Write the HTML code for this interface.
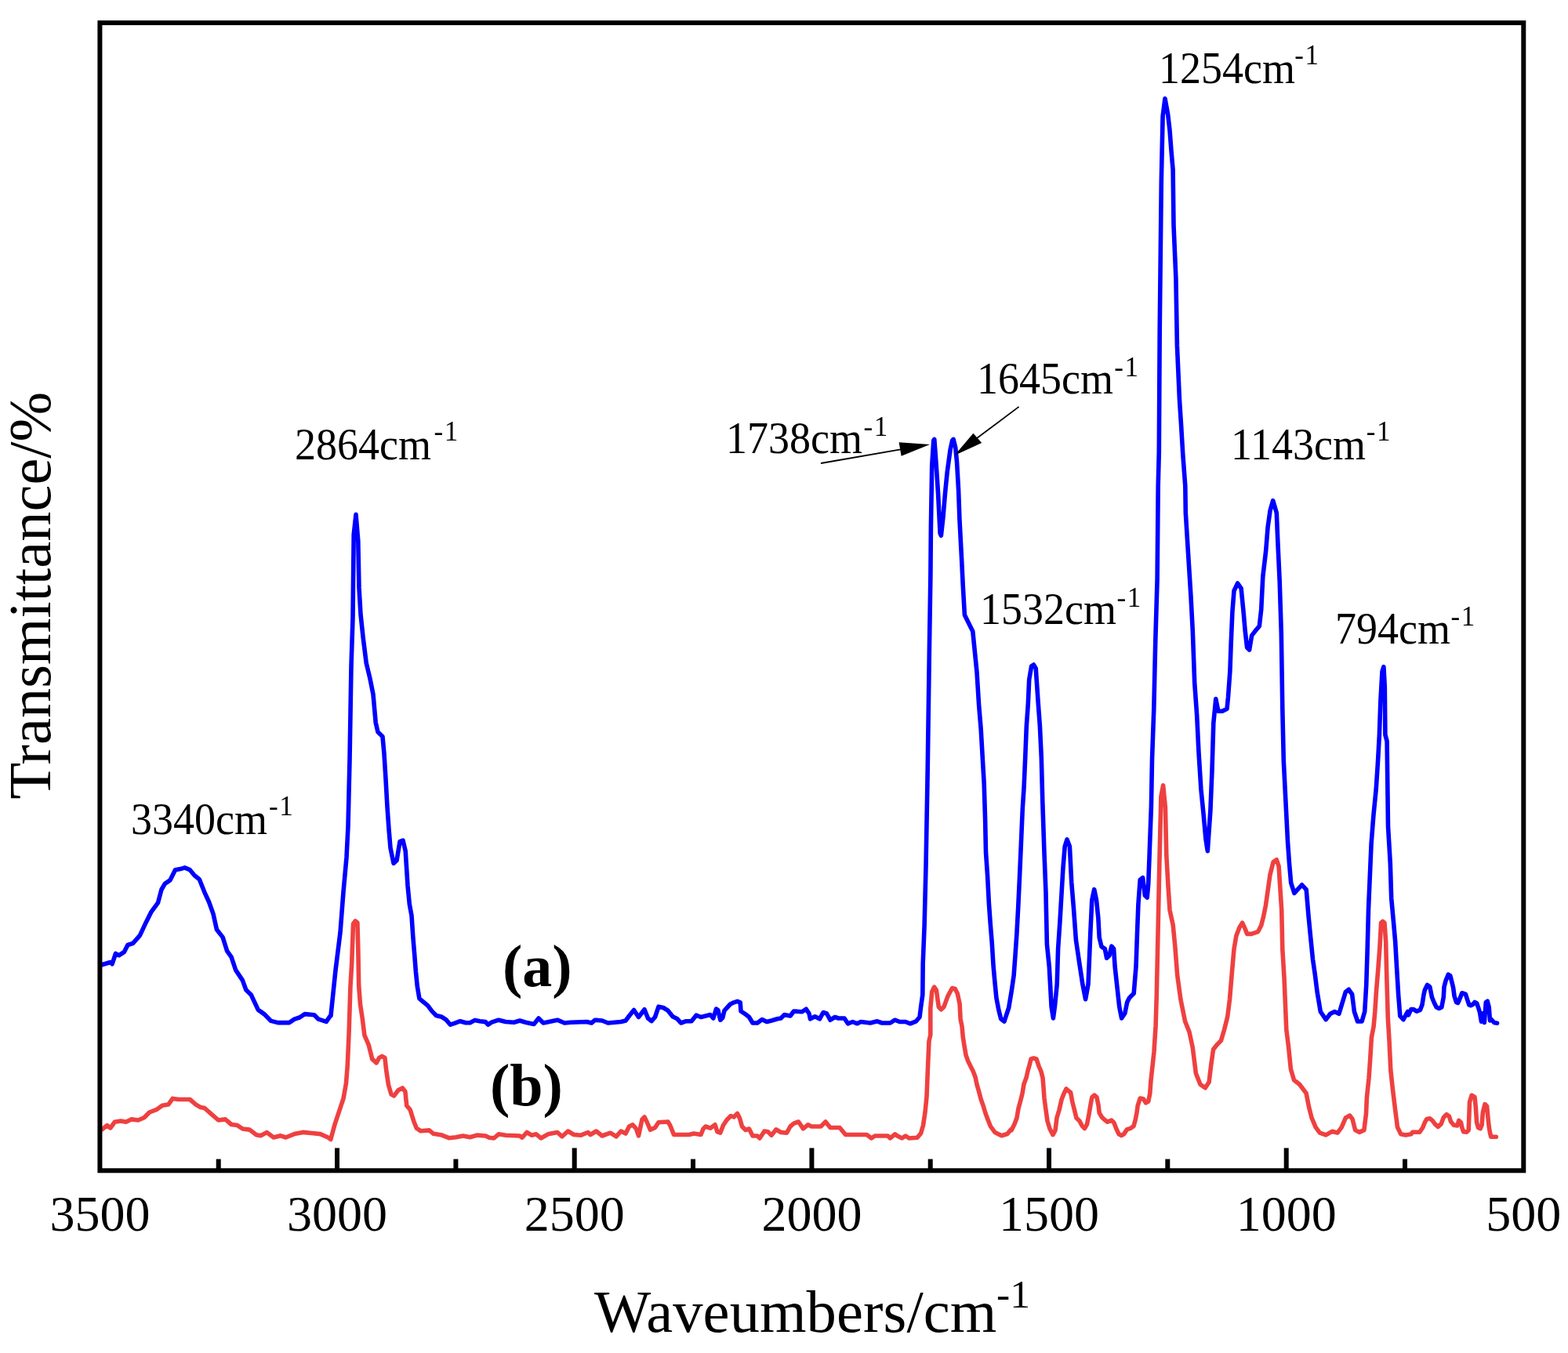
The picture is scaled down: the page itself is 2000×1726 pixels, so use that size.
<!DOCTYPE html>
<html><head><meta charset="utf-8"><title>FTIR spectra</title>
<style>
html,body{margin:0;padding:0;background:#fff;}
svg{display:block;}
text{font-family:"Liberation Serif","Times New Roman",serif;fill:#000;}
</style></head>
<body>
<svg width="2000" height="1726" viewBox="0 0 2000 1726">
<rect x="0" y="0" width="2000" height="1726" fill="#fff"/>
<g fill="none" stroke-width="5.6" stroke-linejoin="round" stroke-linecap="round">
<polyline stroke="#EF4040" points="129.9,1441.1 136.5,1435.6 140.9,1438.9 146.4,1431.2 154.1,1430.1 160.7,1431.2 167.4,1427.9 176.2,1429.0 183.9,1425.7 190.5,1419.0 199.3,1415.7 207.0,1410.2 214.7,1409.1 220.2,1401.4 227.9,1402.5 242.2,1402.5 249.9,1409.1 255.4,1412.4 260.9,1413.5 269.8,1421.3 278.6,1429.0 287.4,1427.9 295.1,1434.5 302.8,1435.6 309.4,1440.0 318.2,1441.1 327.0,1447.7 332.5,1448.8 340.2,1444.6 349.0,1451.0 357.9,1448.8 364.5,1451.0 375.5,1446.6 386.5,1444.4 397.5,1445.5 408.5,1446.6 418.4,1451.0 421.8,1453.5 427.2,1433.8 432.6,1417.6 438.0,1401.4 441.5,1381.7 443.3,1358.3 445.1,1317.0 446.9,1259.6 448.7,1229.0 450.5,1178.7 453.2,1174.9 455.9,1176.9 456.8,1209.3 457.7,1257.8 459.5,1281.1 462.2,1299.1 464.9,1320.6 470.3,1333.2 474.8,1351.2 480.1,1355.9 483.7,1349.4 487.3,1347.3 490.9,1349.4 492.7,1365.5 495.4,1383.5 499.0,1396.1 502.6,1397.9 508.0,1390.7 513.4,1388.0 516.9,1392.5 518.7,1410.4 523.2,1415.8 527.7,1430.2 531.3,1439.2 536.7,1442.8 547.5,1441.9 552.9,1446.3 563.6,1448.1 572.6,1451.7 581.6,1450.8 590.6,1449.0 599.5,1450.8 608.5,1448.1 619.3,1449.0 624.0,1451.2 630.0,1452.0 636.0,1446.8 645.0,1448.2 663.0,1449.0 666.0,1451.2 672.0,1444.5 678.0,1448.2 684.0,1446.8 690.0,1452.0 699.0,1446.8 711.0,1444.5 717.0,1449.8 724.5,1443.0 732.0,1447.5 741.0,1448.2 750.0,1444.5 753.0,1447.5 760.5,1443.0 768.0,1449.0 778.5,1445.2 786.0,1449.8 792.0,1443.0 798.0,1446.0 802.5,1437.0 807.0,1434.9 811.5,1440.0 814.5,1448.8 819.0,1428.0 822.0,1425.0 825.0,1431.0 829.5,1441.3 835.5,1438.5 840.0,1431.8 852.0,1431.0 855.0,1436.2 859.5,1447.5 870.0,1447.5 879.0,1447.5 885.0,1446.0 894.0,1447.5 897.0,1440.0 900.0,1437.0 906.0,1439.2 912.0,1434.8 915.0,1443.8 918.8,1445.1 922.5,1435.5 927.0,1428.8 932.2,1423.5 936.0,1425.0 940.5,1420.5 943.5,1426.5 946.5,1437.0 951.0,1441.5 955.5,1440.0 960.0,1449.0 966.0,1449.0 969.0,1452.0 975.0,1443.0 979.5,1443.8 984.0,1448.2 990.0,1440.8 996.0,1444.5 1003.5,1445.2 1008.0,1437.0 1012.5,1433.2 1018.5,1431.0 1024.5,1439.8 1030.5,1434.8 1035.0,1437.0 1047.0,1437.0 1053.0,1431.0 1059.0,1438.5 1071.0,1438.5 1078.5,1447.5 1105.5,1447.5 1111.5,1452.0 1116.0,1449.0 1132.5,1449.0 1135.5,1452.0 1141.5,1446.8 1146.0,1449.8 1150.5,1452.0 1155.0,1449.0 1159.5,1452.0 1170.0,1451.2 1174.5,1446.0 1177.5,1435.5 1180.0,1419.0 1182.0,1399.0 1183.5,1361.0 1185.0,1328.0 1186.8,1320.0 1186.8,1286.3 1188.7,1265.3 1191.6,1259.1 1194.4,1263.4 1197.3,1284.4 1200.2,1287.8 1204.0,1284.4 1208.8,1271.1 1214.5,1260.5 1218.3,1261.5 1221.2,1267.2 1224.1,1280.6 1225.1,1300.0 1227.0,1309.3 1228.3,1323.2 1230.2,1335.2 1232.1,1346.3 1234.8,1353.8 1238.5,1361.2 1241.3,1366.7 1244.1,1374.2 1246.0,1383.4 1248.7,1392.7 1251.1,1402.0 1254.3,1411.2 1257.1,1420.5 1259.9,1427.9 1263.6,1437.2 1269.1,1444.6 1277.5,1448.7 1284.9,1446.5 1289.5,1440.9 1290.0,1442.0 1294.0,1434.0 1297.0,1426.0 1299.0,1414.0 1302.0,1403.0 1304.0,1395.0 1306.0,1383.0 1309.0,1375.0 1311.0,1366.0 1313.0,1359.0 1315.0,1351.0 1318.5,1349.9 1322.0,1351.0 1325.0,1360.0 1328.0,1367.0 1330.0,1375.0 1331.0,1387.0 1332.0,1401.0 1334.0,1416.0 1336.0,1430.0 1339.0,1440.0 1343.0,1447.6 1346.0,1442.0 1348.0,1426.0 1351.0,1416.0 1354.0,1403.0 1357.0,1395.0 1360.0,1389.0 1361.5,1390.5 1365.6,1393.7 1367.7,1405.1 1370.9,1417.7 1372.9,1426.0 1377.1,1430.2 1380.3,1436.4 1383.4,1439.6 1386.5,1434.3 1389.1,1420.8 1391.2,1408.3 1392.8,1399.9 1395.9,1397.1 1399.0,1399.9 1401.1,1410.4 1402.2,1419.7 1405.3,1425.0 1408.4,1428.1 1412.6,1431.2 1417.8,1429.1 1420.9,1432.3 1424.1,1440.6 1427.2,1446.9 1430.3,1448.6 1433.4,1446.9 1437.6,1440.6 1441.8,1439.6 1446.0,1436.4 1448.1,1429.1 1450.1,1418.7 1451.2,1410.4 1454.3,1401.0 1458.5,1402.0 1461.6,1406.9 1464.7,1405.1 1466.8,1394.7 1467.9,1379.1 1470.0,1360.3 1472.0,1341.5 1474.1,1308.2 1475.3,1269.2 1477.2,1180.2 1478.9,1099.6 1480.9,1016.2 1483.6,1001.9 1486.4,1030.1 1487.8,1091.2 1490.0,1130.2 1492.0,1160.8 1496.2,1180.2 1498.9,1208.0 1501.7,1244.2 1505.9,1274.8 1511.5,1302.6 1517.0,1316.5 1521.2,1336.0 1525.4,1369.3 1530.9,1383.2 1537.3,1387.8 1542.1,1380.5 1544.8,1358.2 1547.6,1338.7 1551.8,1333.2 1557.4,1327.6 1561.5,1313.7 1565.7,1297.0 1568.5,1274.8 1571.3,1241.4 1574.0,1210.8 1576.8,1194.1 1581.0,1183.0 1584.6,1177.1 1588.0,1184.4 1590.7,1191.4 1596.3,1191.4 1604.6,1188.6 1608.8,1180.2 1611.6,1169.1 1614.4,1155.2 1617.2,1135.7 1619.9,1116.3 1624.1,1099.6 1628.3,1096.8 1631.1,1105.1 1632.5,1127.4 1634.7,1160.8 1635.8,1210.8 1638.0,1247.0 1640.8,1313.7 1643.6,1336.0 1646.4,1363.8 1650.5,1377.7 1657.5,1383.2 1666.1,1394.6 1669.5,1412.0 1673.0,1425.9 1678.2,1438.1 1683.4,1445.1 1691.2,1447.9 1699.1,1443.3 1706.0,1445.1 1711.2,1438.1 1716.4,1425.9 1721.7,1423.1 1725.1,1427.7 1728.6,1441.6 1733.8,1444.4 1739.9,1441.6 1742.5,1420.7 1743.4,1399.9 1746.0,1375.5 1747.7,1351.2 1749.4,1323.4 1752.1,1309.5 1753.8,1290.4 1755.5,1264.3 1757.8,1236.5 1759.9,1208.7 1761.6,1177.4 1763.7,1175.4 1766.0,1177.4 1767.7,1201.7 1768.6,1240.0 1770.3,1299.0 1772.0,1326.9 1773.8,1365.1 1776.4,1389.4 1779.8,1417.2 1782.5,1438.1 1786.8,1446.8 1792.9,1447.9 1800.0,1446.8 1801.7,1444.3 1810.8,1444.3 1814.7,1438.5 1817.3,1432.0 1819.9,1427.4 1823.8,1426.8 1827.0,1429.4 1830.3,1433.9 1834.2,1437.4 1838.1,1433.9 1841.3,1425.5 1845.2,1421.6 1848.5,1424.2 1850.5,1430.7 1854.3,1435.2 1858.9,1435.9 1860.8,1429.4 1863.5,1432.0 1864.8,1438.5 1866.7,1443.7 1870.6,1444.3 1873.2,1441.7 1873.8,1425.5 1874.5,1406.0 1877.1,1397.3 1881.0,1399.5 1882.3,1412.5 1883.6,1432.0 1885.5,1438.5 1888.2,1439.8 1890.1,1435.2 1891.4,1419.0 1894.0,1408.6 1896.6,1411.2 1897.9,1425.5 1899.2,1437.2 1900.5,1445.0 1901.8,1450.2 1905.7,1450.2 1908.3,1450.2"/>
<polyline stroke="#0000FF" points="129.9,1230.8 140.9,1227.5 143.1,1229.7 147.5,1216.5 151.9,1218.7 158.5,1214.3 162.9,1205.5 169.6,1203.3 178.4,1193.4 186.1,1176.9 192.7,1163.7 201.5,1151.6 205.9,1135.0 210.3,1127.3 216.9,1122.9 223.5,1109.7 230.1,1108.6 235.6,1106.9 242.2,1109.7 247.7,1116.3 254.3,1121.8 260.9,1138.3 266.5,1150.5 272.0,1165.9 276.4,1185.7 284.1,1195.6 289.6,1213.2 295.1,1220.9 300.6,1237.4 309.4,1250.6 313.8,1262.7 320.4,1269.3 329.2,1288.1 336.9,1293.6 345.7,1302.4 354.5,1304.6 368.9,1304.6 375.5,1300.2 382.1,1298.0 388.7,1293.6 400.8,1294.7 406.3,1300.2 416.2,1303.3 420.6,1296.9 422.0,1295.6 428.0,1237.6 434.0,1189.7 438.0,1137.7 442.0,1093.7 444.0,1053.8 446.0,969.8 448.0,849.9 450.0,787.9 451.2,682.0 454.0,656.4 456.8,690.0 458.0,749.9 460.0,783.9 463.2,813.9 467.2,845.9 472.0,865.9 476.0,885.9 479.2,921.8 482.0,933.8 488.0,939.8 490.0,961.8 492.0,993.8 494.0,1029.8 496.0,1057.8 498.0,1081.7 502.0,1101.3 506.0,1097.7 510.0,1073.7 514.0,1072.1 517.2,1085.7 520.0,1129.7 522.3,1153.6 525.0,1168.0 526.8,1194.9 528.6,1216.5 530.4,1239.8 532.2,1257.8 534.9,1273.9 540.3,1278.4 545.7,1282.9 551.1,1290.1 556.4,1295.5 563.6,1297.3 569.0,1300.9 574.4,1307.2 579.8,1305.4 587.0,1302.7 594.1,1304.8 599.5,1304.8 605.8,1301.4 612.1,1302.7 619.3,1303.6 622.5,1307.2 627.0,1304.2 636.0,1301.2 645.0,1303.5 655.5,1304.2 663.0,1302.0 670.5,1304.2 681.0,1306.5 687.0,1299.0 693.0,1305.0 711.0,1301.2 720.0,1305.0 727.5,1304.2 748.5,1303.5 754.5,1305.0 759.0,1301.2 768.0,1302.0 775.5,1305.0 792.0,1303.5 798.0,1302.0 802.5,1296.0 808.5,1288.5 814.5,1297.5 822.0,1287.8 826.5,1299.0 831.0,1302.6 835.5,1297.5 840.0,1284.2 846.0,1285.5 852.0,1289.2 858.0,1296.8 864.0,1299.8 868.5,1305.0 874.5,1302.8 882.0,1302.8 888.0,1295.2 894.0,1297.5 900.0,1296.0 906.0,1294.5 909.8,1299.0 913.5,1287.0 915.8,1288.5 918.8,1301.2 921.8,1298.2 924.0,1289.2 931.5,1281.0 936.0,1278.8 940.5,1277.4 944.2,1278.8 945.0,1290.0 951.0,1293.8 955.5,1297.5 960.0,1305.0 966.0,1305.0 972.0,1300.5 978.0,1303.5 984.0,1302.0 991.5,1299.8 996.0,1299.0 1000.5,1294.5 1008.0,1296.0 1012.5,1290.0 1023.0,1290.8 1028.2,1287.2 1032.0,1293.0 1033.5,1299.8 1039.5,1296.8 1045.5,1299.8 1050.0,1291.5 1054.5,1293.0 1059.0,1301.2 1065.0,1297.5 1069.5,1299.0 1077.0,1299.0 1081.5,1305.8 1087.5,1303.5 1093.5,1305.8 1098.0,1303.5 1110.0,1305.0 1119.0,1302.8 1125.0,1305.0 1135.5,1305.0 1141.5,1301.2 1147.5,1303.5 1155.0,1303.5 1161.0,1305.8 1168.5,1302.8 1173.0,1297.5 1174.5,1285.5 1176.8,1269.0 1177.2,1229.0 1179.1,1181.2 1181.0,1104.7 1182.9,1000.0 1183.5,961.9 1185.3,834.2 1186.9,732.5 1187.4,672.5 1188.7,594.3 1190.8,561.7 1191.8,560.4 1193.9,589.1 1196.5,628.2 1199.1,680.4 1200.4,683.2 1203.0,659.5 1205.6,628.2 1208.2,602.1 1212.1,573.5 1214.7,561.7 1216.1,560.4 1218.7,570.9 1220.5,589.1 1222.6,625.6 1223.9,662.1 1226.5,711.6 1228.3,748.1 1230.4,784.6 1235.6,795.1 1240.8,805.5 1243.4,831.6 1246.0,857.6 1248.6,899.4 1251.2,930.6 1253.9,977.6 1255.2,1000.0 1256.6,1045.4 1257.5,1087.5 1259.5,1116.2 1261.4,1152.5 1263.3,1179.3 1265.2,1202.2 1267.1,1232.8 1269.0,1253.8 1270.9,1273.0 1273.8,1288.3 1276.7,1299.7 1280.9,1303.1 1286.7,1285.5 1290.4,1263.3 1293.1,1244.7 1295.0,1218.8 1296.9,1191.0 1298.7,1157.6 1300.6,1116.8 1302.4,1076.0 1304.3,1031.5 1306.1,1003.7 1307.6,969.1 1309.3,926.5 1311.3,898.1 1312.7,866.9 1315.6,849.9 1318.4,848.0 1321.2,852.7 1324.1,895.3 1326.4,926.5 1328.3,966.3 1329.8,1023.0 1332.0,1088.3 1334.0,1139.4 1335.4,1204.7 1338.3,1233.1 1341.1,1284.2 1343.4,1298.9 1345.4,1284.2 1348.2,1255.8 1349.6,1210.4 1351.9,1176.3 1353.9,1142.3 1355.9,1108.2 1358.2,1079.8 1361.0,1070.9 1364.4,1079.8 1366.7,1125.2 1369.5,1159.3 1372.4,1199.1 1376.6,1227.5 1380.9,1255.8 1384.6,1274.7 1388.0,1255.8 1389.4,1224.6 1390.8,1190.5 1392.8,1148.0 1395.7,1134.7 1398.5,1148.0 1400.8,1170.7 1402.2,1196.2 1405.0,1207.6 1409.3,1210.4 1411.6,1222.2 1415.0,1218.9 1417.8,1207.1 1420.6,1210.4 1422.1,1233.1 1424.9,1258.7 1427.7,1284.2 1430.6,1298.9 1434.8,1292.7 1437.7,1278.6 1440.5,1272.9 1446.2,1267.2 1449.0,1233.1 1450.5,1190.5 1451.9,1153.6 1454.2,1122.4 1457.6,1119.6 1460.4,1142.3 1463.2,1145.1 1464.7,1128.1 1466.1,1091.2 1468.4,1028.7 1469.5,969.1 1471.8,903.8 1473.7,819.9 1476.1,738.6 1477.2,620.0 1478.3,576.9 1479.2,423.2 1481.3,231.1 1483.1,148.4 1486.0,125.7 1489.6,145.5 1492.0,166.1 1494.0,192.7 1496.1,216.4 1497.0,287.3 1499.9,355.2 1501.4,440.9 1504.4,508.9 1506.7,544.4 1508.8,579.8 1511.8,620.0 1512.3,654.2 1515.3,702.4 1518.9,759.7 1521.3,804.9 1523.7,871.1 1526.7,913.3 1528.9,958.5 1531.9,1006.7 1534.9,1036.8 1537.9,1070.0 1540.3,1085.7 1543.9,1033.8 1546.0,982.6 1547.8,922.4 1550.8,891.6 1553.9,907.3 1559.0,907.3 1565.0,904.3 1566.5,889.2 1568.9,856.1 1570.1,822.9 1571.9,780.8 1574.0,753.7 1578.6,744.0 1583.1,750.6 1586.1,780.8 1588.2,804.9 1590.6,826.0 1593.6,829.0 1596.6,810.9 1601.1,804.9 1606.3,798.8 1608.7,777.8 1610.8,735.6 1614.7,702.4 1617.1,672.3 1620.1,651.2 1623.7,638.6 1628.3,654.2 1629.8,690.4 1632.2,741.6 1634.3,807.9 1635.8,904.3 1637.3,970.6 1642.5,1073.6 1644.5,1101.4 1646.7,1126.4 1650.9,1139.3 1655.0,1134.8 1660.6,1128.8 1666.2,1134.8 1669.0,1168.2 1671.7,1196.0 1674.5,1223.8 1677.3,1243.2 1680.1,1265.5 1684.3,1290.5 1691.2,1300.6 1696.8,1293.3 1702.3,1290.5 1707.9,1293.3 1712.1,1279.4 1716.3,1265.5 1720.4,1262.3 1724.6,1268.3 1727.4,1290.5 1731.6,1303.0 1737.1,1303.0 1740.7,1290.5 1742.7,1257.1 1744.1,1212.7 1745.5,1159.8 1747.4,1115.3 1749.1,1076.4 1751.9,1040.2 1755.2,1006.9 1757.4,973.5 1759.4,937.3 1760.8,895.6 1763.0,856.7 1764.9,850.7 1766.3,876.2 1766.9,937.3 1769.1,945.7 1770.5,1054.1 1773.3,1101.4 1774.7,1145.9 1777.5,1176.5 1779.7,1201.5 1781.6,1234.9 1783.6,1268.3 1785.8,1296.1 1790.0,1300.6 1795.5,1290.5 1796.5,1294.8 1799.8,1287.6 1803.0,1287.6 1806.9,1290.2 1811.5,1288.3 1814.0,1281.8 1816.0,1268.8 1817.3,1262.9 1820.5,1256.4 1823.8,1259.0 1825.1,1265.5 1826.4,1272.0 1829.0,1278.5 1832.2,1285.0 1835.5,1286.5 1838.8,1285.0 1841.3,1272.0 1842.0,1259.0 1844.0,1251.2 1847.2,1243.2 1849.8,1244.7 1851.8,1252.5 1853.7,1260.3 1855.0,1270.7 1857.6,1278.5 1859.5,1279.4 1861.5,1275.3 1864.8,1266.8 1869.3,1268.1 1871.2,1274.0 1873.8,1281.8 1875.8,1282.6 1879.0,1281.1 1881.0,1278.5 1883.6,1279.8 1885.5,1285.0 1887.5,1291.5 1889.5,1303.2 1891.4,1292.8 1893.3,1304.5 1895.3,1278.5 1897.2,1277.2 1899.2,1285.0 1900.5,1301.9 1901.8,1300.0 1905.7,1304.5 1909.6,1305.2"/>
</g>
<g stroke="#000" stroke-width="1.8" fill="none">
<line x1="1047" y1="591" x2="1150" y2="573.2"/>
<line x1="1299.6" y1="518.9" x2="1246" y2="559"/>
</g>
<g fill="#000" stroke="none">
<polygon points="1186,567.1 1146.6,564.2 1149.6,581.7"/>
<polygon points="1217.4,581 1241.4,552.8 1252.2,565.1"/>
</g>
<g stroke="#000" stroke-width="6" fill="none">
<rect x="127.4" y="29.1" width="1815.9" height="1464.2"/>
<line x1="278.7" y1="1478.6" x2="278.7" y2="1491" /><line x1="430.0" y1="1464.5" x2="430.0" y2="1491" /><line x1="581.4" y1="1478.6" x2="581.4" y2="1491" /><line x1="732.7" y1="1464.5" x2="732.7" y2="1491" /><line x1="884.0" y1="1478.6" x2="884.0" y2="1491" /><line x1="1035.4" y1="1464.5" x2="1035.4" y2="1491" /><line x1="1186.7" y1="1478.6" x2="1186.7" y2="1491" /><line x1="1338.0" y1="1464.5" x2="1338.0" y2="1491" /><line x1="1489.3" y1="1478.6" x2="1489.3" y2="1491" /><line x1="1640.7" y1="1464.5" x2="1640.7" y2="1491" /><line x1="1792.0" y1="1478.6" x2="1792.0" y2="1491" />
</g>
<g font-size="64">
<text x="127.4" y="1570" text-anchor="middle">3500</text><text x="430.0" y="1570" text-anchor="middle">3000</text><text x="732.7" y="1570" text-anchor="middle">2500</text><text x="1035.4" y="1570" text-anchor="middle">2000</text><text x="1338.0" y="1570" text-anchor="middle">1500</text><text x="1640.7" y="1570" text-anchor="middle">1000</text><text x="1943.3" y="1570" text-anchor="middle">500</text>
</g>
<g font-size="54">
<text transform="translate(167,1064) scale(1,1.045)">3340cm</text><text font-size="35" x="343" y="1040">-<tspan dx="1.6">1</tspan></text><text transform="translate(376,585.8) scale(1,1.045)">2864cm</text><text font-size="35" x="553.6" y="562">-<tspan dx="1.6">1</tspan></text><text transform="translate(926,578) scale(1,1.045)">1738cm</text><text font-size="35" x="1101.6" y="556">-<tspan dx="1.6">1</tspan></text><text transform="translate(1246,501.8) scale(1,1.045)">1645cm</text><text font-size="35" x="1421.2" y="479.6">-<tspan dx="1.6">1</tspan></text><text transform="translate(1478,105.8) scale(1,1.045)">1254cm</text><text font-size="35" x="1651.2" y="81.8">-<tspan dx="1.6">1</tspan></text><text transform="translate(1570,585.8) scale(1,1.045)">1143cm</text><text font-size="35" x="1742.8" y="562">-<tspan dx="1.6">1</tspan></text><text transform="translate(1250,795.8) scale(1,1.045)">1532cm</text><text font-size="35" x="1424.4" y="774.4">-<tspan dx="1.6">1</tspan></text><text transform="translate(1703,821.4) scale(1,1.045)">794cm</text><text font-size="35" x="1850.5" y="797.8">-<tspan dx="1.6">1</tspan></text>
</g>
<g font-size="76" font-weight="bold">
<text x="641" y="1258">(a)</text>
<text x="625" y="1410">(b)</text>
</g>
<text font-size="76.5" letter-spacing="0.1" x="758" y="1699">Waveumbers/cm</text>
<text font-size="51.5" x="1271" y="1668.3">-<tspan dx="0">1</tspan></text>
<text font-size="76.5" transform="translate(64.2,1019.5) rotate(-90)" x="0" y="0">Transmittance/%</text>
</svg>
</body></html>
